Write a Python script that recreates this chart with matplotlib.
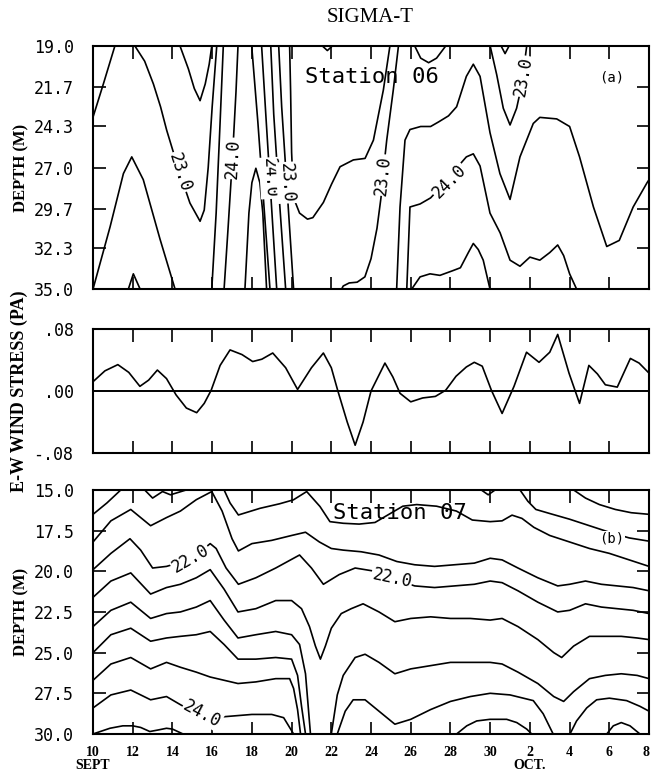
import matplotlib
matplotlib.use("Agg")
import matplotlib.pyplot as plt

# days counted from 1 Sept (32 = 2 Oct)
tick_days = [10, 12, 14, 16, 18, 20, 22, 24, 26, 28, 30, 32, 34, 36, 38]
tick_labels = ["10\nSEPT", "12", "14", "16", "18", "20", "22", "24", "26", "28", "30",
               "2\nOCT.", "4", "6", "8"]

# E-W wind stress (Pa)
wind_day = [10.0, 10.6, 11.25, 11.8, 12.36, 12.8, 13.24, 13.7, 14.18, 14.7, 15.22, 15.6,
            15.95, 16.4, 16.9, 17.5, 18.04, 18.5, 19.05, 19.7, 20.3, 21.0, 21.6, 22.0,
            22.33, 22.8, 23.2, 23.6, 24.0, 24.7, 25.1, 25.46, 26.0, 26.6, 27.24, 27.76,
            28.28, 28.8, 29.2, 29.6, 30.06, 30.6, 31.2, 31.83, 32.46, 33.0, 33.4, 33.97,
            34.5, 34.97, 35.4, 35.8, 36.4, 37.06, 37.5, 38.0]
wind_tau = [0.012, 0.026, 0.034, 0.024, 0.006, 0.014, 0.027, 0.016, -0.005, -0.022, -0.028,
            -0.016, 0.001, 0.033, 0.053, 0.047, 0.038, 0.041, 0.049, 0.030, 0.002, 0.030,
            0.049, 0.030, 0.000, -0.040, -0.070, -0.040, 0.000, 0.036, 0.018, -0.003,
            -0.014, -0.009, -0.007, 0.001, 0.019, 0.031, 0.037, 0.032, 0.001, -0.029,
            0.006, 0.050, 0.037, 0.050, 0.073, 0.023, -0.016, 0.033, 0.022, 0.008, 0.005,
            0.042, 0.036, 0.023]

# Station 06 contour lines (day, depth m)
s06_a_day = [10.0, 10.52, 11.1]
s06_a_z = [23.68, 21.5, 19.0]
s06_b_day = [10.0, 10.86, 11.53, 11.95, 12.53, 13.37, 14.13]
s06_b_z = [35.0, 30.9, 27.4, 26.3, 27.8, 31.7, 35.0]
s06_c_day = [11.78, 12.03, 12.37]
s06_c_z = [35.0, 34.0, 35.0]
s06_d_day = [14.38, 14.8, 15.1, 15.39, 15.65, 15.85, 15.98]
s06_d_z = [19.0, 20.5, 21.8, 22.6, 21.5, 20.2, 19.0]
s06_e_day = [12.11, 12.6, 13.04, 13.4, 13.71, 14.35, 14.88, 15.39, 15.6, 15.8, 16.0, 16.23]
s06_e_z = [19.0, 20.0, 21.5, 23.0, 24.55, 27.3, 29.34, 30.54, 29.8, 27.0, 23.0, 19.0]
s06_f_day = [15.98, 16.2, 16.4, 16.56]
s06_f_z = [35.0, 30.0, 24.0, 19.0]
s06_g_day = [16.6, 16.8, 17.02, 17.2, 17.3]
s06_g_z = [35.0, 31.0, 26.4, 22.0, 19.0]
s06_h_day = [17.65, 17.85, 18.0, 18.2, 18.4, 18.55, 18.74]
s06_h_z = [35.0, 30.0, 28.0, 27.05, 28.0, 30.0, 35.0]
s06_i_day = [17.99, 18.3, 18.55, 18.91]
s06_i_z = [19.0, 24.0, 28.5, 35.0]
s06_j_day = [18.49, 18.7, 18.9, 19.25]
s06_j_z = [19.0, 23.5, 27.7, 35.0]
s06_j2_day = [18.95, 19.1, 19.35, 19.7]
s06_j2_z = [19.0, 23.5, 28.5, 35.0]
s06_k2_day = [19.35, 19.5, 19.75, 20.1]
s06_k2_z = [19.0, 23.0, 28.0, 35.0]
s06_k_day = [19.9, 19.95, 20.0, 20.1, 20.4, 20.8, 21.07, 21.6, 22.01, 22.44, 23.11, 23.7,
             24.12, 24.62, 24.95]
s06_k_z = [19.0, 22.0, 26.0, 29.0, 30.0, 30.4, 30.3, 29.3, 28.1, 26.95, 26.5, 26.4, 25.2,
           21.9, 19.0]
s06_l_day = [22.4, 22.6, 22.9, 23.3, 23.69, 24.0, 24.3, 24.5, 24.6, 24.79, 25.12, 25.38]
s06_l_z = [35.3, 34.8, 34.6, 34.55, 34.2, 33.0, 31.0, 29.0, 27.5, 25.2, 21.9, 19.0]
s06_m_day = [25.29, 25.46, 25.71, 25.96, 26.5, 27.0, 27.4, 27.9, 28.31, 28.8, 29.15, 29.49,
             29.99, 30.49, 31.0, 31.5, 32.17, 32.5, 33.35, 34.0, 34.5, 35.2, 35.87, 36.5,
             37.2, 37.9, 38.0]
s06_m_z = [35.0, 29.6, 25.2, 24.5, 24.3, 24.3, 24.0, 23.6, 23.0, 21.0, 20.2, 21.0, 24.7,
           27.4, 29.1, 26.3, 24.1, 23.7, 23.8, 24.3, 26.3, 29.6, 32.2, 31.8, 29.6, 28.0, 27.8]
s06_n_day = [25.8, 25.96, 26.47, 27.0, 27.5, 28.2, 28.8, 29.15, 29.49, 29.99, 30.5, 31.0,
             31.5, 32.0, 32.5, 33.0, 33.4, 33.7, 34.0, 34.35]
s06_n_z = [35.0, 29.6, 29.4, 29.0, 28.3, 27.2, 26.3, 26.1, 26.9, 30.0, 31.3, 33.1, 33.5,
           32.9, 33.1, 32.6, 32.1, 32.8, 34.0, 35.0]
s06_o_day = [26.05, 26.47, 26.97, 27.47, 28.1, 28.5, 28.9, 29.15, 29.4, 29.65, 29.99]
s06_o_z = [35.0, 34.2, 34.0, 34.1, 33.8, 33.6, 32.6, 32.0, 32.4, 33.1, 35.0]
s06_p_day = [30.0, 30.33, 30.66, 31.0, 31.33, 31.6, 31.75, 31.84]
s06_p_z = [19.0, 20.9, 23.1, 24.2, 23.1, 21.5, 19.9, 19.0]
s06_q_day = [26.2, 26.5, 26.9, 27.3, 27.76]
s06_q_z = [19.0, 19.8, 20.1, 19.8, 19.0]
s06_r_day = [21.55, 21.8, 22.05]
s06_r_z = [19.0, 19.3, 19.0]
s06_s_day = [30.55, 30.75, 30.95]
s06_s_z = [19.0, 19.5, 19.0]

# Station 07 contour lines (day, depth m)
s07_1_day = [10.0, 10.7, 11.4, 12.0, 12.6, 13.0, 13.5, 13.9, 14.7, 15.5, 16.6, 16.9, 17.32,
             18.41, 19.4, 20.09, 20.76, 21.43, 21.93, 22.6, 23.4, 24.2, 24.9, 25.6, 26.3,
             27.3, 28.3, 29.1, 30.0, 30.6, 31.1, 31.6, 32.2, 33.0, 34.0, 35.0, 36.0, 37.0,
             38.0]
s07_1_z = [16.5, 15.8, 15.0, 14.7, 15.0, 15.5, 15.1, 15.3, 15.0, 14.6, 15.0, 15.8, 16.54,
           16.13, 15.85, 15.61, 15.1, 16.02, 16.95, 17.05, 17.1, 17.0, 16.5, 16.0, 15.9,
           16.0, 16.3, 16.85, 16.95, 16.9, 16.55, 16.75, 17.3, 17.8, 18.2, 18.6, 18.9, 19.3,
           19.7]
s07_2_day = [10.0, 10.9, 11.9, 12.9, 13.7, 14.4, 15.2, 15.98, 16.5, 17.0, 17.32, 18.0, 19.0,
             20.0, 20.7, 21.4, 22.0, 22.6, 23.5, 24.4, 25.3, 26.2, 27.2, 28.2, 29.2, 30.0,
             30.6, 31.4, 32.4, 33.4, 34.0, 34.8, 35.6, 36.4, 37.2, 38.0]
s07_2_z = [18.2, 16.9, 16.2, 17.2, 16.7, 16.3, 15.6, 15.1, 16.3, 18.0, 18.75, 18.3, 18.1,
           17.8, 17.6, 18.2, 18.6, 18.7, 18.8, 19.0, 19.4, 19.6, 19.7, 19.6, 19.5, 19.2,
           19.3, 19.8, 20.4, 20.9, 20.8, 20.6, 20.8, 20.9, 21.0, 21.2]
s07_3_day = [10.0, 10.9, 11.86, 12.4, 13.0, 13.7, 14.4, 15.2, 15.9, 16.2, 16.7, 17.32, 18.2,
             19.2, 20.4, 21.0, 21.6, 22.4, 23.2, 24.2, 25.2, 26.2, 27.2, 28.2, 29.2, 30.0,
             30.6, 31.4, 32.4, 33.4, 34.0, 34.8, 35.6, 36.4, 37.2, 38.0]
s07_3_z = [19.9, 18.9, 18.0, 18.7, 19.8, 19.7, 19.45, 19.0, 18.3, 18.6, 19.8, 20.8, 20.4,
           19.8, 19.0, 19.8, 20.8, 20.2, 19.8, 20.0, 20.5, 20.9, 21.0, 20.9, 20.8, 20.6,
           20.7, 21.2, 21.9, 22.5, 22.4, 22.0, 22.2, 22.3, 22.4, 22.6]
s07_4_day = [10.0, 10.9, 11.9, 12.9, 13.7, 14.4, 15.2, 15.9, 16.6, 17.3, 18.2, 19.2, 20.0,
             20.5, 20.9, 21.2, 21.45, 21.7, 22.0, 22.5, 23.0, 23.6, 24.4, 25.2, 26.0, 27.0,
             28.0, 29.0, 30.0, 30.6, 31.4, 32.4, 33.2, 33.6, 34.2, 35.0, 35.8, 36.6, 37.4,
             38.0]
s07_4_z = [21.6, 20.6, 20.1, 21.4, 21.0, 20.8, 20.4, 19.9, 21.1, 22.5, 22.3, 21.8, 21.8,
           22.3, 23.4, 24.6, 25.4, 24.6, 23.5, 22.6, 22.3, 22.0, 22.5, 23.1, 22.9, 22.8,
           22.9, 22.9, 23.0, 22.9, 23.4, 24.2, 25.0, 25.3, 24.6, 24.0, 24.0, 24.0, 24.1, 24.2]
s07_5_day = [10.0, 10.9, 11.9, 12.9, 13.7, 14.4, 15.2, 15.9, 16.6, 17.3, 18.2, 19.2, 20.0,
             20.4, 20.7, 20.95, 21.3, 21.7, 22.0, 22.3, 22.6, 23.2, 23.7, 24.4, 25.2, 26.0,
             27.0, 28.0, 29.0, 30.0, 30.6, 31.4, 32.4, 33.2, 33.7, 34.2, 35.0, 35.8, 36.6,
             37.4, 38.0]
s07_5_z = [23.4, 22.4, 21.9, 22.9, 22.6, 22.5, 22.2, 21.8, 23.0, 24.1, 23.9, 23.7, 23.9,
           24.5, 26.3, 30.0, 31.5, 31.0, 30.0, 27.6, 26.4, 25.3, 25.1, 25.6, 26.3, 26.0,
           25.8, 25.6, 25.6, 25.6, 25.7, 26.2, 26.9, 27.7, 28.0, 27.4, 26.6, 26.4, 26.3,
           26.4, 26.6]
s07_6_day = [10.0, 10.9, 11.9, 12.9, 13.7, 14.4, 15.2, 15.9, 16.6, 17.3, 18.2, 19.2, 20.0,
             20.3, 20.5, 20.7, 21.5, 22.3, 22.7, 23.1, 23.7, 24.4, 25.2, 26.0, 27.0, 28.0,
             29.0, 30.0, 31.0, 32.17, 32.67, 33.17, 33.6, 34.02, 34.35, 34.86, 35.36, 36.0,
             36.87, 37.54, 38.0]
s07_6_z = [25.0, 23.9, 23.5, 24.3, 24.1, 24.0, 23.9, 23.7, 24.5, 25.4, 25.4, 25.3, 25.4,
           26.4, 28.3, 30.0, 32.0, 30.0, 28.6, 27.9, 27.9, 28.6, 29.4, 29.1, 28.5, 28.0,
           27.7, 27.5, 27.6, 27.95, 28.76, 30.0, 30.6, 30.0, 29.2, 28.4, 27.9, 27.8, 27.95,
           28.3, 28.6]
s07_7_day = [10.0, 10.9, 11.9, 12.9, 13.7, 14.4, 15.2, 15.9, 16.6, 17.3, 18.2, 19.2, 19.9,
             20.1, 20.3, 20.45, 20.6]
s07_7_z = [26.7, 25.7, 25.3, 26.0, 25.6, 25.9, 26.2, 26.5, 26.7, 26.9, 26.8, 26.6, 26.6,
           27.2, 28.5, 30.0, 31.0]
s07_8_day = [10.0, 10.9, 11.9, 12.9, 13.7, 14.4, 15.0, 16.0, 17.0, 18.0, 19.0, 19.6, 19.9,
             20.1]
s07_8_z = [28.4, 27.6, 27.3, 27.9, 27.7, 28.2, 28.6, 29.0, 28.9, 28.8, 28.8, 29.0, 29.6,
           30.0]
s07_9_day = [10.0, 10.85, 11.5, 12.0, 12.4, 12.86, 13.3, 13.7, 14.0, 14.53]
s07_9_z = [30.0, 29.65, 29.5, 29.5, 29.6, 29.85, 29.75, 29.65, 29.7, 30.0]
s07_10_day = [28.31, 28.82, 29.32, 29.99, 30.83, 31.34, 31.84, 32.09]
s07_10_z = [30.0, 29.5, 29.2, 29.1, 29.1, 29.3, 29.7, 30.0]
s07_11_day = [35.87, 36.2, 36.6, 37.04, 37.54]
s07_11_z = [30.0, 29.5, 29.3, 29.5, 30.0]
s07_12_day = [31.5, 31.9, 32.3, 33.0, 34.0, 35.0, 36.0, 37.0, 38.0]
s07_12_z = [15.0, 15.7, 16.2, 16.45, 16.8, 17.2, 17.6, 17.95, 18.15]
s07_13_day = [34.2, 34.8, 35.5, 36.3, 37.1, 38.0]
s07_13_z = [15.0, 15.5, 15.9, 16.2, 16.4, 16.5]
s07_14_day = [29.55, 29.9, 30.25]
s07_14_z = [15.0, 15.3, 15.0]

s06_lines = [(s06_a_day, s06_a_z), (s06_b_day, s06_b_z), (s06_c_day, s06_c_z),
             (s06_d_day, s06_d_z), (s06_e_day, s06_e_z), (s06_f_day, s06_f_z),
             (s06_g_day, s06_g_z), (s06_h_day, s06_h_z), (s06_i_day, s06_i_z),
             (s06_j_day, s06_j_z), (s06_j2_day, s06_j2_z), (s06_k2_day, s06_k2_z),
             (s06_k_day, s06_k_z), (s06_l_day, s06_l_z), (s06_m_day, s06_m_z),
             (s06_n_day, s06_n_z), (s06_o_day, s06_o_z), (s06_p_day, s06_p_z),
             (s06_q_day, s06_q_z), (s06_r_day, s06_r_z), (s06_s_day, s06_s_z)]
s07_lines = [(s07_1_day, s07_1_z), (s07_2_day, s07_2_z), (s07_3_day, s07_3_z),
             (s07_4_day, s07_4_z), (s07_5_day, s07_5_z), (s07_6_day, s07_6_z),
             (s07_7_day, s07_7_z), (s07_8_day, s07_8_z), (s07_9_day, s07_9_z),
             (s07_10_day, s07_10_z), (s07_11_day, s07_11_z), (s07_12_day, s07_12_z),
             (s07_13_day, s07_13_z), (s07_14_day, s07_14_z)]

# contour labels: (day, depth, text, rotation)
s06_labels = [(14.35, 27.3, "23.0", -72), (17.02, 26.4, "24.0", 87), (18.9, 27.7, "24.0", -87),
              (19.75, 28.0, "23.0", -87), (24.6, 27.5, "23.0", 84), (27.95, 27.9, "24.0", 45),
              (31.68, 21.0, "23.0", 80)]
s07_labels = [(14.9, 19.2, "22.0", 30), (25.05, 20.4, "22.0", -12), (15.5, 28.75, "24.0", -28)]

MONO = "DejaVu Sans Mono"
SERIF = "Liberation Serif"
LW = 1.2


def style_axes(ax, yticks, ylabels, ylim):
    ax.set_xlim(10, 38)
    ax.set_ylim(*ylim)
    ax.set_xticks(tick_days)
    ax.set_yticks(yticks)
    ax.set_yticklabels(ylabels, fontfamily=MONO, fontsize=12)
    ax.tick_params(direction="in", length=9, width=1.2, top=True, right=True)
    ax.tick_params(axis="y", pad=14)
    for s in ax.spines.values():
        s.set_linewidth(1.5)


def draw_contours(ax, lines, labels):
    for d, z in lines:
        ax.plot(d, z, color="black", linewidth=LW, solid_joinstyle="round",
                solid_capstyle="round")
    for x, y, t, rot in labels:
        ax.text(x, y, t, rotation=rot, ha="center", va="center", fontfamily=MONO, fontsize=12,
                bbox=dict(boxstyle="square,pad=0.05", fc="white", ec="none"))


fig = plt.figure(figsize=(6.51, 7.73), dpi=100)
ax1 = fig.add_axes([0.1429, 0.6261, 0.8541, 0.3144])
ax2 = fig.add_axes([0.1429, 0.4140, 0.8541, 0.1604])
ax3 = fig.add_axes([0.1429, 0.0505, 0.8541, 0.3157])

fig.text(0.568, 0.978, "SIGMA-T", ha="center", va="center", fontfamily=SERIF, fontsize=15)

# top: station 06
draw_contours(ax1, s06_lines, s06_labels)
style_axes(ax1, [19.0, 21.7, 24.3, 27.0, 29.7, 32.3, 35.0],
           ["19.0", "21.7", "24.3", "27.0", "29.7", "32.3", "35.0"], (35.0, 19.0))
ax1.set_xticklabels([])
ax1.text(0.502, 0.872, "Station 06", transform=ax1.transAxes, ha="center", va="center",
         fontfamily=MONO, fontsize=16)
ax1.text(0.933, 0.872, "(a)", transform=ax1.transAxes, ha="center", va="center",
         fontfamily=MONO, fontsize=10)
ax1.set_ylabel("DEPTH (M)", fontfamily=SERIF, fontweight="bold", fontsize=12, labelpad=3)

# middle: wind stress
ax2.plot(wind_day, wind_tau, color="black", linewidth=LW, solid_joinstyle="round")
ax2.axhline(0, color="black", linewidth=1.4)
style_axes(ax2, [0.08, 0.0, -0.08], [".08", ".00", "-.08"], (-0.08, 0.08))
ax2.tick_params(axis="y", right=False, left=False, pad=14)
ax2.set_xticklabels([])
ax2.set_ylabel("E-W WIND STRESS (PA)", fontfamily=SERIF, fontweight="bold", fontsize=13,
               labelpad=4)

# bottom: station 07
draw_contours(ax3, s07_lines, s07_labels)
style_axes(ax3, [15.0, 17.5, 20.0, 22.5, 25.0, 27.5, 30.0],
           ["15.0", "17.5", "20.0", "22.5", "25.0", "27.5", "30.0"], (30.0, 15.0))
ax3.set_xticklabels(tick_labels, fontfamily=SERIF, fontweight="bold", fontsize=10,
                    linespacing=0.95)
ax3.tick_params(axis="x", pad=9)
ax3.get_xticklabels()[-1].set_horizontalalignment("right")
ax3.text(0.552, 0.906, "Station 07", transform=ax3.transAxes, ha="center", va="center",
         fontfamily=MONO, fontsize=16)
ax3.text(0.933, 0.80, "(b)", transform=ax3.transAxes, ha="center", va="center",
         fontfamily=MONO, fontsize=10,
         bbox=dict(boxstyle="square,pad=0.05", fc="white", ec="none"))
ax3.set_ylabel("DEPTH (M)", fontfamily=SERIF, fontweight="bold", fontsize=12, labelpad=3)

fig.savefig("out.png", dpi=100)
